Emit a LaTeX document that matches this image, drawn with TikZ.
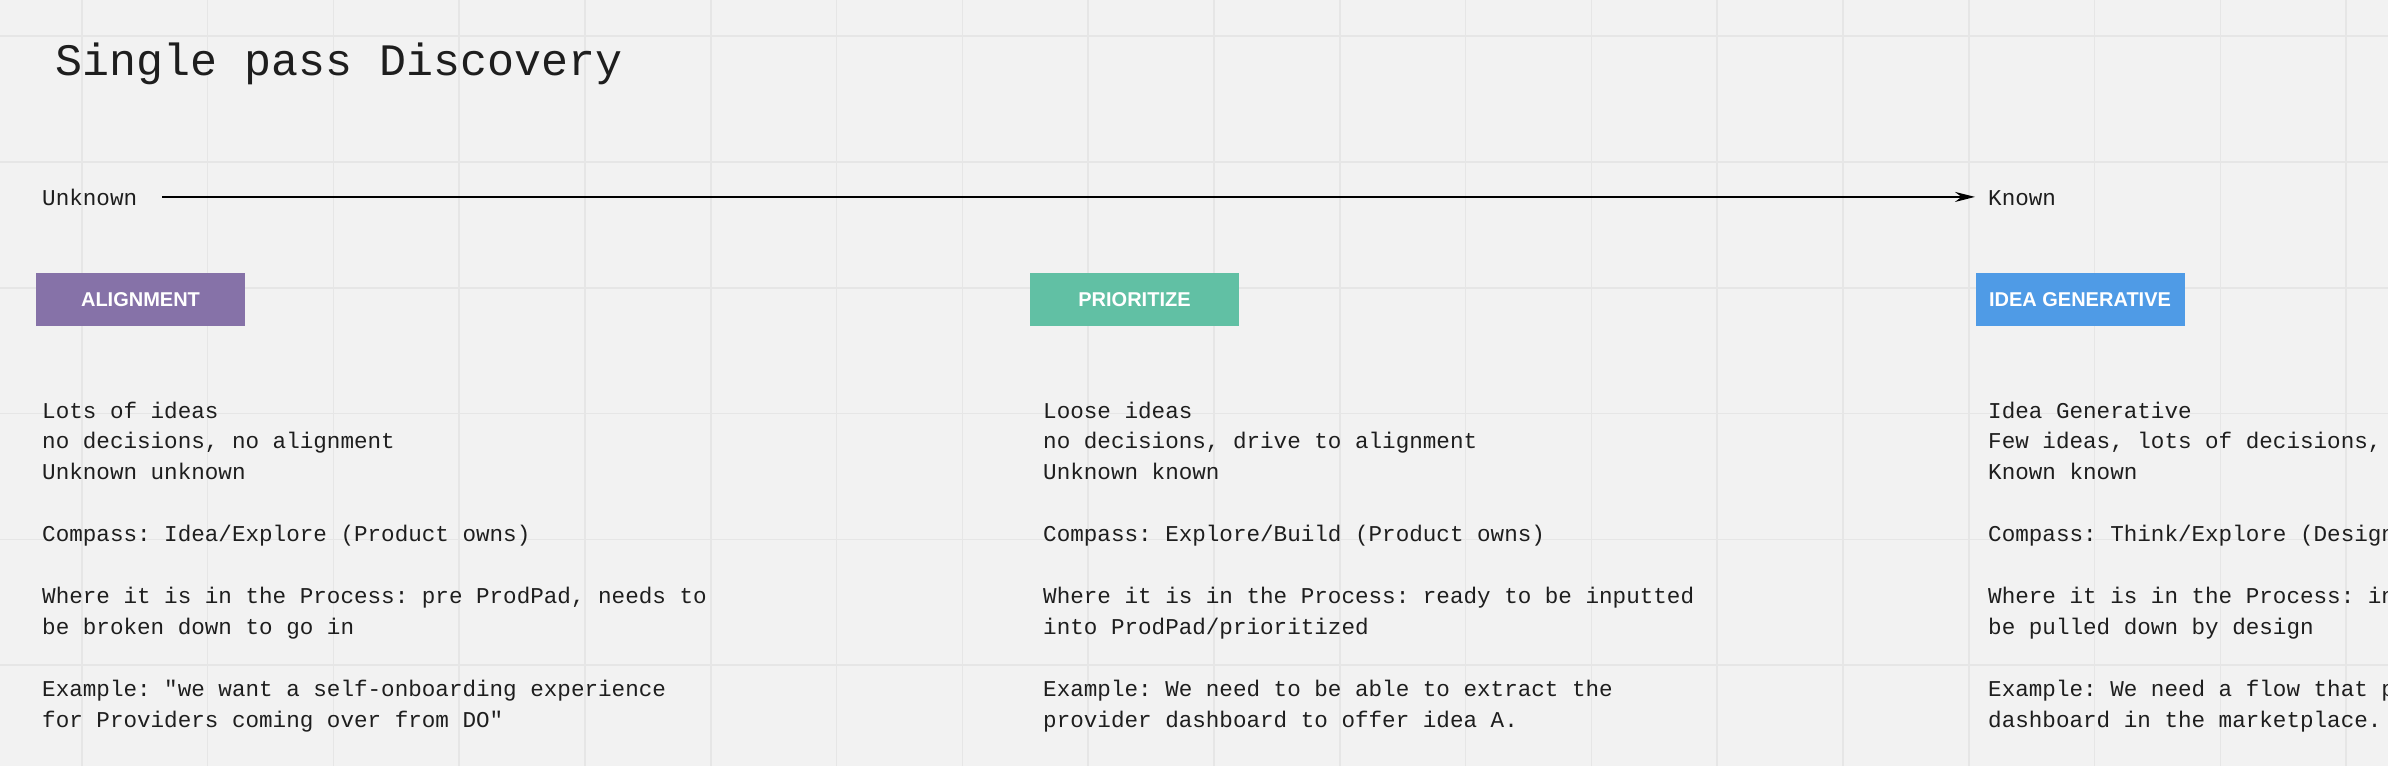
\documentclass[tikz,border=0pt]{standalone}
\usepackage{fontspec}
\setmonofont{Liberation Mono}
\setsansfont{Liberation Sans}
\usetikzlibrary{arrows.meta, positioning}

\definecolor{canvas}{HTML}{F2F2F2}
\definecolor{gridline}{HTML}{E6E6E6}
\definecolor{ink}{HTML}{1E1E1E}
\definecolor{alignpurple}{HTML}{8672A8}
\definecolor{prioritygreen}{HTML}{61C0A4}
\definecolor{ideablue}{HTML}{4F9BE6}

\begin{document}
\begin{tikzpicture}[x=1pt, y=-1pt,
      gridrule/.style={draw=gridline, line width=1.5pt},
      title/.style={font=\ttfamily\fontsize{45}{54}\selectfont, text=ink,
      anchor=base west, inner sep=0pt},
      scalelabel/.style={font=\ttfamily\fontsize{22.6}{30.9}\selectfont,
      text=ink, anchor=base west, inner sep=0pt},
      scalearrow/.style={-{Stealth[length=20pt, width=10pt]}, line width=1.5pt,
      black},
      phase/.style={fill=#1, minimum width=209pt, minimum height=53pt, inner
      sep=0pt, text=white, font=\sffamily\bfseries\fontsize{20}{24}\selectfont},
      notes/.style={font=\ttfamily\fontsize{22.6}{30.9}\selectfont, text=ink,
      align=left, anchor=base west, inner sep=0pt} ]
    % Canvas
    \useasboundingbox (0,0) rectangle (2388,766);
    \fill[canvas] (0,0) rectangle (2388,766);
    \clip (0,0) rectangle (2388,766);

    % Background grid
    \foreach \gx in {-4,...,14} {\draw[gridrule] (585+125.8*\gx,0) --
    (585+125.8*\gx,766);}
    \foreach \gy in {-1,...,4} {\draw[gridrule] (0,162+125.8*\gy) --
    (2388,162+125.8*\gy);}

    % Title
    \node[title] (heading) at (55,75) {Single pass Discovery};

    % Unknown to known scale
    \node[scalelabel] (unknown) at (42,205) {Unknown}; \node[scalelabel]
    (known) at (1988,205) {Known};
    \draw[scalearrow, shorten <=25pt, shorten >=13pt] (unknown.east) --
    (unknown.east -| known.west);

    % Phase boxes
    \node[phase=alignpurple] (alignment) at (140.5,299.5) {ALIGNMENT};
    \node[phase=prioritygreen] (prioritize) at (1134.5,299.5) {PRIORITIZE};
    \node[phase=ideablue] (generative) at (2080,299.5) {IDEA GENERATIVE};

    % Notes under each phase (base = last line)
    \node[notes] (alignnotes) at (42,727) {Lots of ideas\\ no decisions, no
    alignment\\ Unknown unknown\\[30.9pt] Compass: Idea/Explore (Product
    owns)\\[30.9pt] Where it is in the Process: pre ProdPad, needs to\\ be
    broken down to go in\\[30.9pt] Example: "we want a self-onboarding
    experience\\ for Providers coming over from DO"};
    \node[notes] (prionotes) at (1043,727) {Loose ideas\\ no decisions, drive to
    alignment\\ Unknown known\\[30.9pt] Compass: Explore/Build (Product
    owns)\\[30.9pt] Where it is in the Process: ready to be inputted\\ into
    ProdPad/prioritized\\[30.9pt] Example: We need to be able to extract the\\
    provider dashboard to offer idea A.};
    \node[notes] (ideanotes) at (1988,727) {Idea Generative\\ Few ideas, lots of
    decisions,\\ Known known\\[30.9pt] Compass: Think/Explore (Design\\[30.9pt]
    Where it is in the Process: in\\ be pulled down by design\\[30.9pt] Example:
    We need a flow that p\\ dashboard in the marketplace.};

    \end{tikzpicture}
\end{document}
